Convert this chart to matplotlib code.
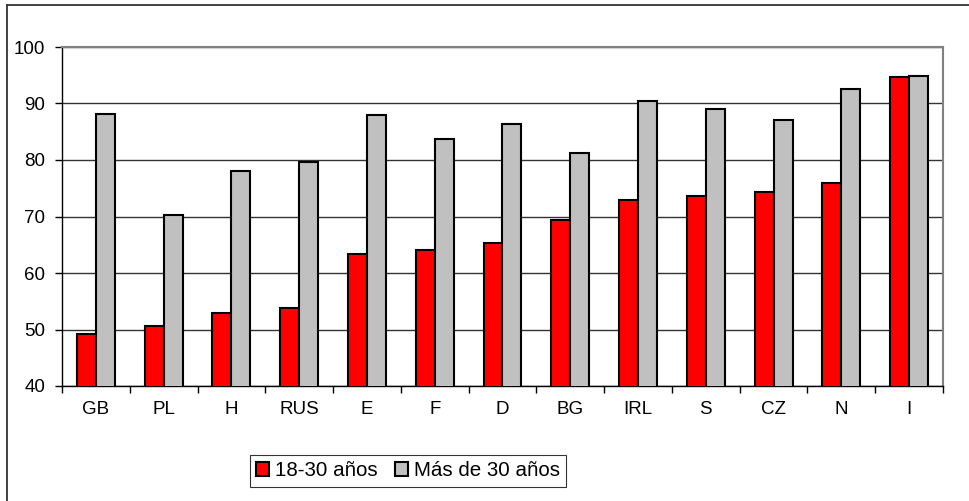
import numpy as np
import matplotlib.pyplot as plt
from matplotlib.lines import Line2D

plt.rcParams['font.family'] = ['Liberation Sans', 'DejaVu Sans']

# datos
paises = ['GB', 'PL', 'H', 'RUS', 'E', 'F', 'D', 'BG', 'IRL', 'S', 'CZ', 'N', 'I']
jovenes = [49.2, 50.7, 52.9, 53.8, 63.3, 64.1, 65.3, 69.3, 73.0, 73.6, 74.4, 75.9, 94.7]
mayores = [88.1, 70.3, 78.1, 79.6, 87.9, 83.7, 86.3, 81.3, 90.4, 89.1, 87.0, 92.5, 94.9]


def main():
    fig = plt.figure(figsize=(9.7, 5.01), dpi=100)
    ax = fig.add_axes([62 / 970, 1 - 386 / 501, (943 - 62) / 970, (386 - 47) / 501])

    x = np.arange(len(paises))
    w = 0.28
    ax.bar(x - w / 2, jovenes, w, color='#ff0000', edgecolor='black', linewidth=1.5,
           label='18-30 años', zorder=3)
    ax.bar(x + w / 2, mayores, w, color='#c0c0c0', edgecolor='black', linewidth=1.5,
           label='Más de 30 años', zorder=3)

    ax.set_xlim(-0.5, len(paises) - 0.5)
    ax.set_ylim(40, 100)
    ax.set_yticks(range(40, 101, 10))
    ax.yaxis.grid(True, color='#333333', linewidth=1)
    ax.set_axisbelow(True)

    fs = 13.5
    ax.set_xticks(x)
    ax.set_xticklabels(paises)
    ax.set_xticks(np.arange(-0.5, len(paises), 1), minor=True)
    ax.tick_params(axis='x', which='major', length=0, pad=11, labelsize=fs)
    ax.tick_params(axis='x', which='minor', length=5, width=1, color='black')
    ax.tick_params(axis='y', length=5, width=1, pad=7, labelsize=fs)

    for s in ['top', 'right']:
        ax.spines[s].set_color('#808080')
        ax.spines[s].set_linewidth(1.5)
    for s in ['left', 'bottom']:
        ax.spines[s].set_color('black')
        ax.spines[s].set_linewidth(1)

    leg = ax.legend(loc='center', bbox_to_anchor=(408 / 970, 1 - 471 / 501),
                    bbox_transform=fig.transFigure, ncol=2, frameon=True,
                    fancybox=False, edgecolor='black', fontsize=14.8,
                    handlelength=0.65, handleheight=0.65, handletextpad=0.3,
                    columnspacing=0.8, borderpad=0.3)
    leg.get_frame().set_linewidth(0.8)

    # marco exterior
    fig.add_artist(Line2D([7 / 970, 7 / 970], [0, 1 - 5 / 501], color='#333333',
                          linewidth=1.3, transform=fig.transFigure))
    fig.add_artist(Line2D([7 / 970, 1], [1 - 5 / 501, 1 - 5 / 501], color='#333333',
                          linewidth=1.3, transform=fig.transFigure))

    fig.savefig('out.png', dpi=100)


if __name__ == '__main__':
    main()
